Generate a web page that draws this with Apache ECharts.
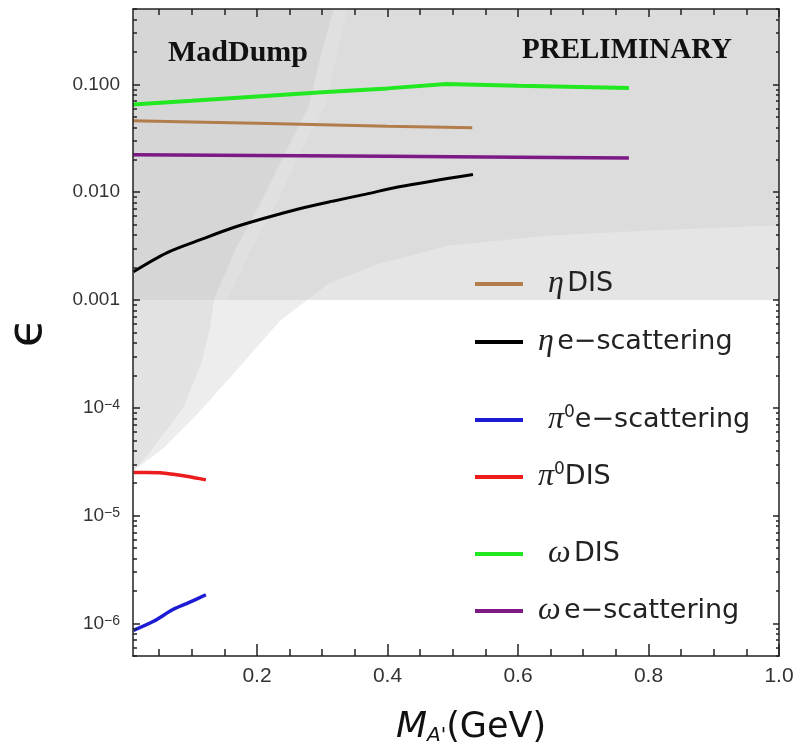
<!DOCTYPE html>
<html><head><meta charset="utf-8">
<script src="https://cdn.jsdelivr.net/npm/echarts@6/dist/echarts.min.js"></script>
<style>html,body{margin:0;padding:0;background:#fff}#c{width:794px;height:752px}</style>
</head><body><div id="c"></div>
<script>
// ---- axis ranges & ticks ----
const xMin = 0.01, xMax = 1.0, yMin = 5e-7, yMax = 0.5;
const xMajorTicks = [0.2, 0.4, 0.6, 0.8, 1.0];
const xMajorLabels = ['0.2', '0.4', '0.6', '0.8', '1.0'];
const xMinorTicks = [0.05, 0.1, 0.15, 0.25, 0.3, 0.35, 0.45, 0.5, 0.55, 0.65, 0.7, 0.75, 0.85, 0.9, 0.95];
const yMajorTicks = [1e-6, 1e-5, 1e-4, 1e-3, 1e-2, 1e-1];
const yMajorLabels = [['10', '−6'], ['10', '−5'], ['10', '−4'], ['0.001'], ['0.010'], ['0.100']];
const yMinorMultipliers = [2, 3, 4, 5, 6, 7, 8, 9];
const yMinorDecades = [1e-7, 1e-6, 1e-5, 1e-4, 1e-3, 1e-2, 1e-1];

// ---- series data ----
const seriesNames = ['η DIS', 'η e−scattering', 'π0 e−scattering', 'π0DIS', 'ω DIS', 'ω e−scattering'];
const etaDisX = [0.01, 0.1, 0.2, 0.3, 0.4, 0.53];
const etaDisY = [0.046, 0.0448, 0.0435, 0.0422, 0.0408, 0.0395];
const etaEscX = [0.0107, 0.0617, 0.1125, 0.163, 0.214, 0.265, 0.316, 0.367, 0.418, 0.531];
const etaEscY = [0.00183, 0.00274, 0.00361, 0.00468, 0.00579, 0.00703, 0.00826, 0.0096, 0.01125, 0.01462];
const piEscX = [0.0107, 0.0415, 0.0718, 0.092, 0.1217];
const piEscY = [8.65e-7, 1.05e-6, 1.355e-6, 1.53e-6, 1.85e-6];
const piDisX = [0.0107, 0.03, 0.0514, 0.0718, 0.092, 0.1217];
const piDisY = [2.51e-5, 2.52e-5, 2.5e-5, 2.42e-5, 2.32e-5, 2.15e-5];
const omDisX = [0.01, 0.1, 0.2, 0.3, 0.4, 0.49, 0.6, 0.77];
const omDisY = [0.065, 0.0705, 0.0773, 0.0845, 0.0918, 0.101, 0.0972, 0.0924];
const omEscX = [0.01, 0.2, 0.4, 0.6, 0.77];
const omEscY = [0.0223, 0.0219, 0.0215, 0.0211, 0.0208];

// ---- shaded region boundaries ----
const c1X = [0.01, 0.0255, 0.056, 0.108, 0.174, 0.235, 0.265, 0.311, 0.387, 0.494, 0.647, 0.8, 1.0];
const c1Y = [2.6e-5, 3.05e-5, 4.2e-5, 8.7e-5, 2.43e-4, 6.4e-4, 8.8e-4, 1.44e-3, 2.16e-3, 3.18e-3, 3.94e-3, 4.38e-3, 4.9e-3];
const c2X = [0.01, 0.02, 0.036, 0.0866, 0.115, 0.128, 0.134, 0.166, 0.207, 0.245, 0.28, 0.298, 0.312, 0.318];
const c2Y = [2.6e-5, 3.0e-5, 3.9e-5, 9.9e-5, 2.6e-4, 5.5e-4, 1e-3, 2.86e-3, 8.34e-3, 0.0243, 0.0638, 0.186, 0.377, 0.5];
const plumeRightX = [0.338, 0.334, 0.322, 0.305, 0.268, 0.232, 0.19, 0.155];
const plumeRightY = [0.5, 0.377, 0.186, 0.0638, 0.0243, 8.34e-3, 2.86e-3, 1e-3];
const topLevel = 1e-3;

// ---- helpers ----
const zip = (xs, ys) => xs.map((x, i) => [x, ys[i]]);
const yMinorTicks = [];
yMinorDecades.forEach(d => yMinorMultipliers.forEach(m => {
  const v = +(d * m).toPrecision(3);
  if (v >= yMin && v <= yMax) yMinorTicks.push(v);
}));

function regionSeries(pts, color) {
  return {
    type: 'custom', z: 1, silent: true, xAxisIndex: 0, yAxisIndex: 0,
    data: pts,
    renderItem(params, api) {
      if (params.dataIndex !== 0) return;
      return { type: 'polygon', shape: { points: pts.map(p => api.coord(p)) }, style: { fill: color } };
    }
  };
}
const c1 = zip(c1X, c1Y), c2 = zip(c2X, c2Y);
let xc = xMin, iAbove = 0;
for (let i = 1; i < c1.length; i++) {
  if (c1[i - 1][1] < topLevel && c1[i][1] >= topLevel) {
    const a = Math.log10(c1[i - 1][1]), b = Math.log10(c1[i][1]), t = (Math.log10(topLevel) - a) / (b - a);
    xc = c1[i - 1][0] + t * (c1[i][0] - c1[i - 1][0]); iAbove = i; break;
  }
}
const c2Top = c2.filter(p => p[1] >= topLevel);
const polyT = [[xMin, topLevel], [xMax, topLevel], [xMax, yMax], [xMin, yMax]];
const polyE = c1.concat([[xMax, yMax], [xMin, yMax]]);
const polyTE = [[xMin, topLevel], [xc, topLevel]].concat(c1.slice(iAbove), [[xMax, yMax], [xMin, yMax]]);
const polyF = c2.concat([[xMin, yMax]]);
const polyFT = [[xMin, topLevel]].concat(c2Top, [[xMin, yMax]]);
const polyPlume = c2Top.concat(zip(plumeRightX, plumeRightY));

const colors = ['#b27d4b', '#000000', '#1c1cd4', '#ec1c1c', '#22e822', '#7c1a86'];
const lineData = [zip(etaDisX, etaDisY), zip(etaEscX, etaEscY), zip(piEscX, piEscY), zip(piDisX, piDisY), zip(omDisX, omDisY), zip(omEscX, omEscY)];
const widths = [3, 3, 3.5, 3.5, 4, 3.5];
const smooths = [false, 0.3, 0.3, 0.3, false, false];

const legendRich = {
  g: { fontFamily: 'Liberation Serif', fontStyle: 'italic', fontSize: 32, color: '#222' },
  t: { fontFamily: 'DejaVu Sans', fontSize: 27, color: '#222' },
  s: { fontFamily: 'DejaVu Sans', fontSize: 17, color: '#222', verticalAlign: 'top' }
};
const legendFmt = {
  'η DIS': '{g|η} {t|DIS}',
  'η e−scattering': '{g|η} {t|e−scattering}',
  'π0 e−scattering': '{g|π}{s|0}{t|e−scattering}',
  'π0DIS': '{g|π}{s|0}{t|DIS}',
  'ω DIS': '{g|ω} {t|DIS}',
  'ω e−scattering': '{g|ω} {t|e−scattering}'
};
const legendY = [283, 341, 419, 476, 553, 610];
const legendPad = [20, 10, 20, 10, 20, 10];
const legends = seriesNames.map((n, i) => ({
  data: [n], left: 475, top: legendY[i] - 15, orient: 'horizontal', padding: 0,
  itemWidth: 48, itemHeight: 4, icon: 'rect', selectedMode: false,
  formatter: () => legendFmt[n],
  textStyle: { padding: [0, 0, 0, legendPad[i]], rich: legendRich }
}));

const axisLineStyle = { color: '#222', width: 1.5 };
const tickLabelStyle = { fontFamily: 'Liberation Sans', fontSize: 21, color: '#333' };

function yLabel(v) {
  const e = Math.round(Math.log10(v));
  const idx = yMajorTicks.findIndex(t => Math.round(Math.log10(t)) === e);
  if (idx < 0) return '';
  const parts = yMajorLabels[idx];
  return parts.length === 2 ? '{b|' + parts[0] + '}{s|' + parts[1] + '}' : '{b|' + parts[0] + '}';
}
function xLabel(v) {
  const idx = xMajorTicks.findIndex(t => Math.abs(t - v) < 1e-6);
  return idx < 0 ? '' : xMajorLabels[idx];
}

const baseX = { type: 'value', min: xMin, max: xMax, gridIndex: 0, z: 4, splitLine: { show: false } };
const baseY = { type: 'log', logBase: 10, min: yMin, max: yMax, gridIndex: 0, z: 4, splitLine: { show: false } };

const option = {
  animation: false,
  backgroundColor: '#ffffff',
  grid: { left: 133, right: 15, top: 9, bottom: 96, containLabel: false, outerBoundsMode: 'none' },
  xAxis: [
    Object.assign({}, baseX, {
      position: 'bottom',
      axisLine: { show: true, onZero: false, lineStyle: axisLineStyle },
      axisTick: { show: true, inside: true, length: 12, customValues: xMajorTicks, lineStyle: axisLineStyle },
      axisLabel: { show: true, customValues: xMajorTicks, formatter: xLabel, margin: 10, ...tickLabelStyle },
      name: '{i|M}{sub|A\'}{r|(GeV)}', nameLocation: 'middle', nameGap: 54,
      nameTextStyle: {
        padding: [0, 0, 0, 30],
        rich: {
          i: { fontFamily: 'DejaVu Sans', fontStyle: 'italic', fontSize: 36, color: '#111' },
          sub: { fontFamily: 'DejaVu Sans', fontStyle: 'italic', fontSize: 20, color: '#111', verticalAlign: 'bottom', padding: [14, 0, 0, 0] },
          r: { fontFamily: 'DejaVu Sans', fontSize: 35, color: '#111' }
        }
      }
    }),
    Object.assign({}, baseX, {
      position: 'bottom',
      axisLine: { show: false, onZero: false },
      axisTick: { show: true, inside: true, length: 7, customValues: xMinorTicks, lineStyle: axisLineStyle },
      axisLabel: { show: false }
    }),
    Object.assign({}, baseX, {
      position: 'top',
      axisLine: { show: true, onZero: false, lineStyle: axisLineStyle },
      axisTick: { show: true, inside: true, length: 8, customValues: xMajorTicks, lineStyle: axisLineStyle },
      axisLabel: { show: false }
    }),
    Object.assign({}, baseX, {
      position: 'top',
      axisLine: { show: false, onZero: false },
      axisTick: { show: true, inside: true, length: 6, customValues: xMinorTicks, lineStyle: axisLineStyle },
      axisLabel: { show: false }
    })
  ],
  yAxis: [
    Object.assign({}, baseY, {
      position: 'left',
      axisLine: { show: true, onZero: false, lineStyle: axisLineStyle },
      axisTick: { show: true, inside: true, length: 7, customValues: yMajorTicks, lineStyle: axisLineStyle },
      axisLabel: {
        show: true, customValues: yMajorTicks, formatter: yLabel, margin: 13,
        rich: {
          b: { fontFamily: 'Liberation Sans', fontSize: 19, color: '#333' },
          s: { fontFamily: 'Liberation Sans', fontSize: 14, color: '#333', verticalAlign: 'top' }
        }
      },
      name: 'ϵ', nameLocation: 'middle', nameGap: 80, nameRotate: 90,
      nameTextStyle: { fontFamily: 'DejaVu Sans', fontSize: 48, color: '#111' }
    }),
    Object.assign({}, baseY, {
      position: 'left',
      axisLine: { show: false, onZero: false },
      axisTick: { show: true, inside: true, length: 4, customValues: yMinorTicks, lineStyle: axisLineStyle },
      axisLabel: { show: false }
    }),
    Object.assign({}, baseY, {
      position: 'right',
      axisLine: { show: true, onZero: false, lineStyle: axisLineStyle },
      axisTick: { show: true, inside: true, length: 6, customValues: yMajorTicks, lineStyle: axisLineStyle },
      axisLabel: { show: false }
    }),
    Object.assign({}, baseY, {
      position: 'right',
      axisLine: { show: false, onZero: false },
      axisTick: { show: true, inside: true, length: 3, customValues: yMinorTicks, lineStyle: axisLineStyle },
      axisLabel: { show: false }
    })
  ],
  legend: legends,
  graphic: [
    { type: 'text', left: 168, top: 38, z: 10, style: { text: 'MadDump', font: 'bold 30px "Liberation Serif"', fill: '#111' } },
    { type: 'text', left: 522, top: 36, z: 10, style: { text: 'PRELIMINARY', font: 'bold 29px "Liberation Serif"', fill: '#111' } }
  ],
  series: [
    regionSeries(polyT, '#e5e5e5'),
    regionSeries(polyE, '#ededed'),
    regionSeries(polyTE, '#dcdcdc'),
    regionSeries(polyF, '#e2e2e2'),
    regionSeries(polyFT, '#d6d6d6'),
    regionSeries(polyPlume, '#e0e0e0')
  ].concat(seriesNames.map((n, i) => ({
    type: 'line', name: n, z: 3, xAxisIndex: 0, yAxisIndex: 0,
    data: lineData[i], showSymbol: false, symbol: 'none', smooth: smooths[i],
    lineStyle: { color: colors[i], width: widths[i] }, itemStyle: { color: colors[i] }
  })))
};
const chart = echarts.init(document.getElementById('c'), null, { renderer: 'canvas' });
chart.setOption(option);
</script></body></html>
